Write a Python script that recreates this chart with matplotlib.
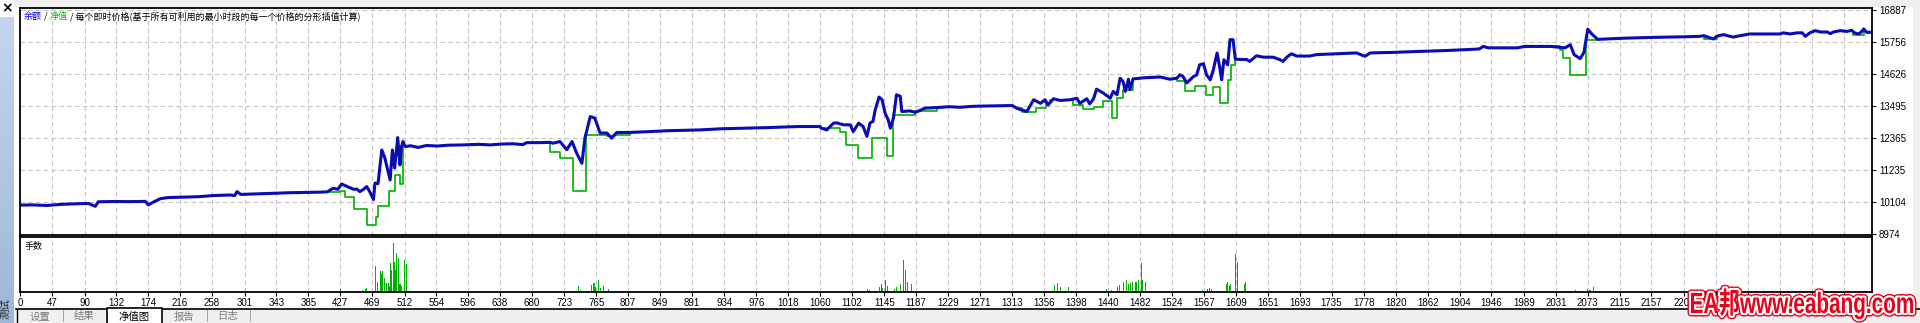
import matplotlib
matplotlib.use("Agg")
import matplotlib.pyplot as plt
import matplotlib.patheffects as pe
from matplotlib.patches import Rectangle, PathPatch
from matplotlib.lines import Line2D
from matplotlib.textpath import TextPath
from matplotlib.font_manager import FontProperties
from matplotlib.transforms import Affine2D
import numpy as np

plt.rcParams['font.family'] = ['Liberation Sans', 'DejaVu Sans']
CJK = ['Noto Sans CJK SC', 'DejaVu Sans']

# balance line (trade number, value)
blue_t = [0, 20, 40, 60, 80, 95, 104, 108, 130, 150, 170, 174, 180, 190, 200, 216, 240, 260, 282, 288,
          291, 296, 320, 340, 360, 380, 400, 410, 418, 424, 429, 433, 437, 445, 449, 453, 458, 462, 466, 471,
          473, 477, 482, 486, 493, 496, 499, 503, 506, 508, 510, 513, 520, 530, 541, 555, 570, 590, 610, 625,
          640, 655, 668, 673, 690, 704, 708, 717, 726, 733, 739, 746, 750, 757, 763, 770, 779, 785, 792, 809,
          836, 858, 902, 930, 960, 990, 1010, 1034, 1060, 1062, 1069, 1078, 1082, 1091, 1100, 1104, 1111, 1117, 1122, 1126,
          1130, 1133, 1138, 1142, 1146, 1150, 1153, 1157, 1161, 1166, 1168, 1179, 1186, 1199, 1215, 1230, 1245, 1260, 1270, 1290,
          1314, 1320, 1333, 1342, 1351, 1357, 1361, 1368, 1377, 1390, 1399, 1403, 1412, 1416, 1421, 1425, 1434, 1443, 1447, 1452,
          1456, 1460, 1463, 1467, 1469, 1473, 1487, 1509, 1522, 1531, 1535, 1539, 1544, 1553, 1557, 1561, 1566, 1570, 1575, 1579,
          1584, 1588, 1590, 1593, 1598, 1601, 1605, 1608, 1614, 1623, 1627, 1636, 1645, 1658, 1667, 1671, 1676, 1682, 1689, 1706,
          1715, 1742, 1768, 1779, 1786, 1817, 1847, 1891, 1930, 1935, 1942, 1980, 1990, 2024, 2043, 2050, 2055, 2063, 2068, 2073,
          2078, 2086, 2120, 2160, 2200, 2221, 2226, 2239, 2243, 2252, 2261, 2265, 2274, 2287, 2327, 2331, 2340, 2349, 2356, 2360,
          2366, 2373, 2380, 2389, 2393, 2397, 2406, 2415, 2421, 2425, 2430, 2434, 2437, 2441, 2448]
blue_v = [10000, 10010, 9990, 10030, 10050, 10060, 9960, 10120, 10130, 10125, 10135, 10010, 10100, 10230, 10270, 10280, 10300, 10340, 10360, 10340,
          10480, 10380, 10400, 10420, 10440, 10450, 10460, 10470, 10600, 10560, 10750, 10700, 10650, 10560, 10570, 10480, 10560, 10660, 10480, 10200,
          10780, 10760, 11950, 11670, 10890, 11950, 11310, 12390, 11420, 12070, 12250, 12070, 12100, 12040, 12110, 12090, 12120, 12130, 12150, 12130,
          12160, 12170, 12140, 12210, 12210, 12220, 12190, 12250, 11960, 12250, 11840, 11480, 12370, 13130, 13080, 12550, 12550, 12370, 12570, 12570,
          12600, 12630, 12660, 12700, 12720, 12740, 12760, 12780, 12780, 12720, 12660, 12900, 12910, 12840, 12840, 12600, 12900, 12780, 12430, 12900,
          12960, 13370, 13820, 13725, 13250, 13020, 12720, 13080, 13900, 13850, 13310, 13330, 13280, 13430, 13450, 13480, 13460, 13490, 13500, 13510,
          13520, 13420, 13310, 13725, 13600, 13725, 13540, 13760, 13700, 13725, 13780, 13600, 13760, 13580, 13760, 14100, 13960, 13780, 14020, 13900,
          14490, 14370, 14020, 14450, 14080, 14460, 14500, 14530, 14450, 14490, 14610, 14550, 14320, 14550, 14600, 14960, 15000, 14610, 14430, 14780,
          15380, 14790, 14430, 15140, 14960, 15850, 15850, 15165, 15150, 15150, 15080, 15280, 15230, 15230, 15140, 15080, 15230, 15350, 15270, 15270,
          15320, 15350, 15380, 15260, 15380, 15400, 15430, 15470, 15520, 15610, 15560, 15560, 15610, 15610, 15560, 15670, 15320, 15180, 15400, 16220,
          16060, 15860, 15900, 15930, 15950, 15966, 15990, 15874, 15970, 16026, 15966, 15940, 15990, 16050, 16050, 16090, 16050, 16090, 16090, 15966,
          16090, 16167, 16120, 16120, 16060, 16120, 16167, 16140, 16180, 16090, 16050, 16120, 16227, 16110, 16110]

# equity where it separates from the balance (step segments)
eq_runs = [
    ([400, 427, 434, 445, 462, 475, 477, 491, 499, 506, 510],
     [10460, 10503, 10290, 9870, 9300, 9590, 9972, 10500, 11070, 10740, 12250]),
    ([690, 704, 717, 734, 751, 779, 790, 809],
     [12210, 11895, 11661, 10514, 12486, 12460, 12486, 12567]),
    ([1050, 1060, 1086, 1095, 1110, 1129, 1149, 1157, 1186, 1214],
     [12780, 12723, 12603, 12132, 11661, 12369, 11742, 13194, 13311, 13450]),
    ([1320, 1326, 1345, 1358, 1364], [13420, 13290, 13430, 13600, 13725]),
    ([1390, 1394, 1407, 1421, 1434, 1445, 1452, 1460, 1473],
     [13725, 13548, 13395, 13466, 13665, 13077, 13785, 14054, 14460]),
    ([1522, 1531, 1542, 1555, 1570, 1578, 1588, 1599, 1603, 1608],
     [14450, 14380, 14050, 14210, 13902, 14185, 13620, 14433, 14964, 15165]),
    ([2024, 2036, 2041, 2050, 2071, 2086], [15610, 15495, 15200, 14600, 15850, 15860]),
    ([2220, 2226, 2243], [15966, 15884, 15970]),
    ([2420, 2423, 2438], [16150, 16026, 16110]),
]

# lots per trade
vol_t = [181, 187, 288, 303, 406, 418, 428, 434, 439, 445, 449, 457, 460, 462, 474, 476, 480, 481, 483, 485,
         486, 488, 491, 492, 494, 495, 497, 499, 500, 502, 504, 506, 508, 512, 514, 710, 729, 741, 744, 759,
         762, 764, 768, 771, 775, 781, 800, 806, 814, 823, 946, 1089, 1096, 1108, 1123, 1126, 1138, 1141, 1143, 1146,
         1149, 1158, 1161, 1166, 1170, 1173, 1176, 1181, 1210, 1238, 1349, 1356, 1370, 1373, 1378, 1388, 1417, 1426, 1438, 1445,
         1452, 1455, 1461, 1464, 1467, 1470, 1473, 1477, 1480, 1484, 1486, 1489, 1565, 1571, 1574, 1577, 1596, 1598, 1600, 1602,
         1608, 1611, 1620, 1622, 1649, 1664, 1690, 2051, 2057, 2073, 2076, 2080, 2085, 2369, 2435, 2446]
vol_h = [1, 1, 1, 1, 1, 1, 3, 1, 1, 1, 1, 2, 3, 4, 26, 10, 21, 18, 21, 8,
         14, 9, 9, 6, 29, 22, 49, 30, 22, 39, 34, 8, 6, 32, 28, 1, 1, 6, 2, 7,
         9, 5, 12, 4, 6, 3, 1, 1, 1, 1, 1, 1, 1, 1, 3, 2, 5, 8, 4, 12,
         6, 3, 5, 8, 32, 22, 10, 8, 1, 1, 1, 1, 7, 9, 5, 5, 1, 1, 3, 2,
         5, 7, 10, 12, 8, 9, 10, 10, 12, 29, 12, 10, 2, 3, 4, 3, 8, 10, 6, 8,
         38, 30, 8, 10, 1, 1, 1, 1, 2, 3, 2, 5, 1, 1, 1, 1]

x_ticks = [0, 47, 90, 132, 174, 216, 258, 301, 343, 385, 427, 469, 512, 554, 596, 638, 680, 723, 765, 807,
           849, 891, 934, 976, 1018, 1060, 1102, 1145, 1187, 1229, 1271, 1313, 1356, 1398, 1440, 1482, 1524, 1567, 1609, 1651,
           1693, 1735, 1778, 1820, 1862, 1904, 1946, 1989, 2031, 2073, 2115, 2157, 2200, 2242, 2284, 2326, 2369, 2411]
y_ticks = [8974, 10104, 11235, 12365, 13495, 14626, 15756, 16887]

W, H = 1920, 323
BLUE = '#0c0cb4'
GREEN = '#00b000'
GRID = dict(color='#c4c4c4', linestyle=(0, (4, 3)), linewidth=0.8)


def box(l, t, r, b):
    return [l / W, 1 - b / H, (r - l) / W, (b - t) / H]


def chrome_rect(l, t, r, b, **kw):
    r_ = Rectangle((l / W, 1 - b / H), (r - l) / W, (b - t) / H, transform=fig.transFigure, **kw)
    fig.patches.append(r_)
    return r_


fig = plt.figure(figsize=(W / 100, H / 100), dpi=100)
fig.patch.set_facecolor('white')

# window chrome
chrome_rect(14, 0, 1920, 7, facecolor='#f0f0f0', edgecolor='none', zorder=-1)
chrome_rect(14, 309, 1920, 323, facecolor='#f0f0f0', edgecolor='none', zorder=-1)
chrome_rect(1913, 0, 1920, 323, facecolor='#f0f0f0', edgecolor='none', zorder=-1)
fig.lines.append(Line2D([16 / W, 1], [1 - 309 / H] * 2, transform=fig.transFigure, color='black', lw=1.2, zorder=2))
fig.lines.append(Line2D([17 / W] * 2, [0, 1 - 309 / H], transform=fig.transFigure, color='black', lw=1.0, zorder=2))
chrome_rect(107, 308, 162, 326, facecolor='white', edgecolor='black', lw=1.2, zorder=3)

strip = fig.add_axes(box(0, 17, 14, 323))
strip.imshow(np.linspace(0, 1, 100).reshape(-1, 1), aspect='auto',
             cmap=matplotlib.colors.LinearSegmentedColormap.from_list('s', ['#c4d6ee', '#9fb6d6']))
strip.set_axis_off()
fig.text(7 / W, 1 - 8 / H, '×', fontsize=10, fontweight='bold', ha='center', va='center', family=['DejaVu Sans'])
fig.text(6 / W, 1 - 309 / H, '测试', rotation=90, fontsize=7.5, ha='center', va='center', family=CJK, color='#202020')

tabs = [('设置', 40, '#7a7a7a'), ('|', 63, '#7a7a7a'), ('结果', 84, '#7a7a7a'), ('净值图', 134, 'black'),
        ('报告', 184, '#7a7a7a'), ('|', 207, '#7a7a7a'), ('日志', 228, '#7a7a7a'), ('|', 250, '#7a7a7a')]
for txt, xp, col in tabs:
    fig.text(xp / W, 1 - 316.5 / H, txt, fontsize=7.5, ha='center', va='center', color=col, family=CJK, zorder=4)

# main panel
ax = fig.add_axes(box(20, 8, 1872, 235))
axv = fig.add_axes(box(20, 237, 1872, 292), sharex=ax)

ax.plot(blue_t, blue_v, color=GREEN, lw=1.2)
for rt, rv in eq_runs:
    ax.plot(rt, rv, color=GREEN, lw=1.2, drawstyle='steps-post')
ax.plot(blue_t, blue_v, color=BLUE, lw=2.2)

x_lo, x_hi = 4.7, 2448
ax.set_xlim(x_lo, x_hi)
ax.set_ylim(8946, 16968)
ax.set_yticks(y_ticks)
ax.set_yticklabels([str(v) for v in y_ticks])
ax.yaxis.tick_right()
ax.tick_params(axis='y', direction='out', length=3, width=0.8, pad=2, labelsize=7)
ax.tick_params(axis='x', length=0, labelbottom=False)
ax.set_axisbelow(True)
ax.grid(True, **GRID)

# volume panel
axv.bar(vol_t, vol_h, width=1.4, color=GREEN, linewidth=0)
axv.set_ylim(0, 55)
axv.set_yticks([])
axv.set_xticks([x_lo] + x_ticks[1:])
axv.set_xticklabels([str(v) for v in x_ticks])
axv.tick_params(axis='x', direction='out', length=3, width=0.8, pad=1.5, labelsize=7)
axv.set_axisbelow(True)
axv.grid(True, axis='x', **GRID)

for a in (ax, axv):
    for s in a.spines.values():
        s.set_linewidth(1.3)
        s.set_color('black')

t1 = fig.text(24 / W, 1 - 21 / H, '余额', color='#0000e0', fontsize=6.5, family=CJK, va='bottom')
t2 = ax.annotate(' / ', xy=(1, 0), xycoords=t1, va='bottom', fontsize=6.5, family=CJK, color='black')
t3 = ax.annotate('净值', xy=(1, 0), xycoords=t2, va='bottom', fontsize=6.5, family=CJK, color='#00c000')
ax.annotate(' / 每个即时价格(基于所有可利用的最小时段的每一个价格的分形插值计算)', xy=(1, 0), xycoords=t3,
            va='bottom', fontsize=6.5, family=CJK, color='black')
fig.text(25 / W, 1 - 246 / H, '手数', fontsize=6.5, family=CJK, va='center', color='black')

# watermark, drawn as condensed outline text (one patch per font run)
size = 30
parts = [('EA', FontProperties(family='Liberation Sans', weight='bold')),
         ('邦', FontProperties(family='Noto Sans CJK SC', weight='bold')),
         ('www.eabang.com', FontProperties(family='Liberation Sans', weight='bold'))]
paths = []
xcur = 0
for s, fp in parts:
    p = TextPath((xcur, 0), s, size=size, prop=fp)
    paths.append(p)
    xcur = p.get_extents().x1 + 1.5
x_first = paths[0].get_extents().x0
sx = 222 / (xcur - 1.5 - x_first)
sy = 21 / (0.72 * size)
tr = Affine2D().translate(-x_first, 0).scale(sx, sy).translate(1691, H - 313)
for p in paths:
    patch = PathPatch(p, transform=tr, facecolor='#e8001c', edgecolor='none', zorder=10,
                      path_effects=[pe.Stroke(linewidth=5, foreground='#e8001c', joinstyle='round'),
                                    pe.Stroke(linewidth=3, foreground='white', joinstyle='round'),
                                    pe.Normal()])
    fig.add_artist(patch)

fig.savefig('out.png', dpi=100)
